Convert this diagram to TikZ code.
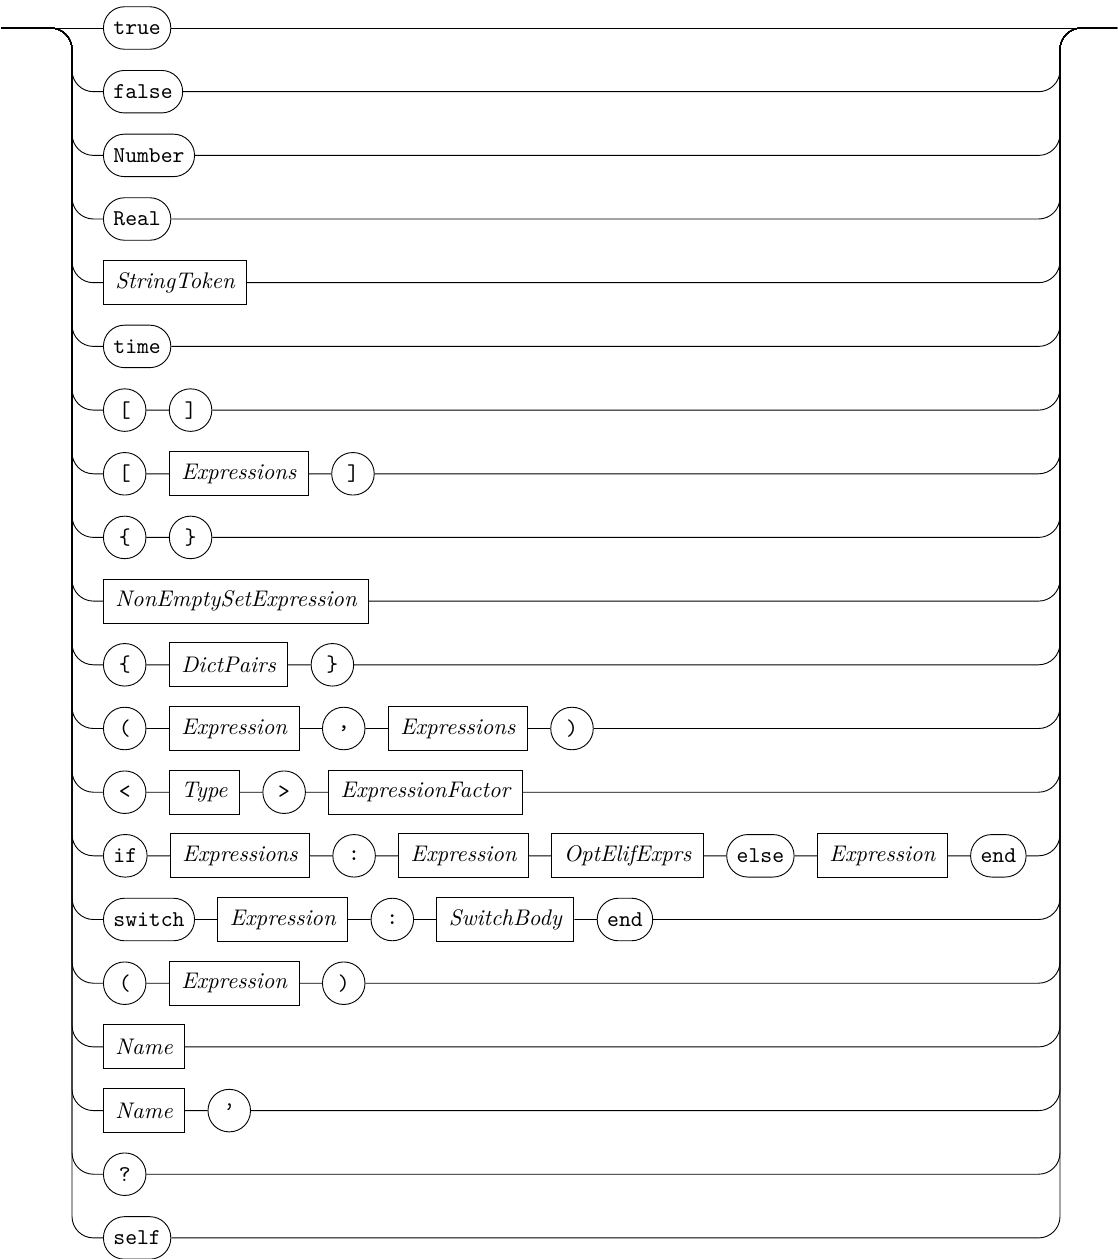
\documentclass[tikz,border=0pt]{standalone}
\usetikzlibrary{positioning, calc}

\begin{document}
\begin{tikzpicture}[x=0.4425pt, y=-0.4425pt, node distance=9.95pt,
    term/.style={draw, rounded corners=9.3pt, minimum height=18.8pt, minimum width=18.8pt, inner xsep=4.4pt, font=\ttfamily},
    nonterm/.style={draw, minimum height=19.5pt, inner xsep=5.3pt, font=\itshape},
    rail/.style={rounded corners=9.5pt}]
    \useasboundingbox (0,0) rectangle (1117,1259);
    \coordinate (in) at (1,28);
    \coordinate (out) at (1117,28);
    \coordinate (lv) at (72,28);
    \coordinate (rv) at (1060,28);

    \node[term, anchor=west] (r0a) at (103,28) {true};
    \draw (in) -- (r0a) -- (out);

    \node[term, anchor=west] (r1a) at (103,91.7) {false};
    \draw[rail] (in) -| (lv |- r1a) -- (r1a) -- (rv |- r1a) |- (out);

    \node[term, anchor=west] (r2a) at (103,155.4) {Number};
    \draw[rail] (in) -| (lv |- r2a) -- (r2a) -- (rv |- r2a) |- (out);

    \node[term, anchor=west] (r3a) at (103,219) {Real};
    \draw[rail] (in) -| (lv |- r3a) -- (r3a) -- (rv |- r3a) |- (out);

    \node[nonterm, anchor=west] (r4a) at (103,282.7) {StringToken};
    \draw[rail] (in) -| (lv |- r4a) -- (r4a) -- (rv |- r4a) |- (out);

    \node[term, anchor=west] (r5a) at (103,346.4) {time};
    \draw[rail] (in) -| (lv |- r5a) -- (r5a) -- (rv |- r5a) |- (out);

    \node[term, anchor=west] (r6a) at (103,410.1) {[};
    \node[term, right=of r6a] (r6b) {]};
    \draw[rail] (in) -| (lv |- r6a) -- (r6a) -- (r6b) -- (rv |- r6b) |- (out);

    \node[term, anchor=west] (r7a) at (103,473.8) {[};
    \node[nonterm, right=of r7a] (r7b) {Expressions};
    \node[term, right=of r7b] (r7c) {]};
    \draw[rail] (in) -| (lv |- r7a) -- (r7a) -- (r7b) -- (r7c) -- (rv |- r7c) |- (out);

    \node[term, anchor=west] (r8a) at (103,537.4) {\char`\{};
    \node[term, right=of r8a] (r8b) {\char`\}};
    \draw[rail] (in) -| (lv |- r8a) -- (r8a) -- (r8b) -- (rv |- r8b) |- (out);

    \node[nonterm, anchor=west] (r9a) at (103,601.1) {NonEmptySetExpression};
    \draw[rail] (in) -| (lv |- r9a) -- (r9a) -- (rv |- r9a) |- (out);

    \node[term, anchor=west] (r10a) at (103,664.8) {\char`\{};
    \node[nonterm, right=of r10a] (r10b) {DictPairs};
    \node[term, right=of r10b] (r10c) {\char`\}};
    \draw[rail] (in) -| (lv |- r10a) -- (r10a) -- (r10b) -- (r10c) -- (rv |- r10c) |- (out);

    \node[term, anchor=west] (r11a) at (103,728.5) {(};
    \node[nonterm, right=of r11a] (r11b) {Expression};
    \node[term, right=of r11b] (r11c) {,};
    \node[nonterm, right=of r11c] (r11d) {Expressions};
    \node[term, right=of r11d] (r11e) {)};
    \draw[rail] (in) -| (lv |- r11a) -- (r11a) -- (r11b) -- (r11c) -- (r11d) -- (r11e) -- (rv |- r11e) |- (out);

    \node[term, anchor=west] (r12a) at (103,792.2) {<};
    \node[nonterm, right=of r12a] (r12b) {Type};
    \node[term, right=of r12b] (r12c) {>};
    \node[nonterm, right=of r12c] (r12d) {ExpressionFactor};
    \draw[rail] (in) -| (lv |- r12a) -- (r12a) -- (r12b) -- (r12c) -- (r12d) -- (rv |- r12d) |- (out);

    \node[term, anchor=west] (r13a) at (103,855.8) {if};
    \node[nonterm, right=of r13a] (r13b) {Expressions};
    \node[term, right=of r13b] (r13c) {:};
    \node[nonterm, right=of r13c] (r13d) {Expression};
    \node[nonterm, right=of r13d] (r13e) {OptElifExprs};
    \node[term, right=of r13e] (r13f) {else};
    \node[nonterm, right=of r13f] (r13g) {Expression};
    \node[term, right=of r13g] (r13h) {end};
    \draw[rail] (in) -| (lv |- r13a) -- (r13a) -- (r13b) -- (r13c) -- (r13d) -- (r13e) -- (r13f) -- (r13g) -- (r13h) -- (rv |- r13h) |- (out);

    \node[term, anchor=west] (r14a) at (103,919.5) {switch};
    \node[nonterm, right=of r14a] (r14b) {Expression};
    \node[term, right=of r14b] (r14c) {:};
    \node[nonterm, right=of r14c] (r14d) {SwitchBody};
    \node[term, right=of r14d] (r14e) {end};
    \draw[rail] (in) -| (lv |- r14a) -- (r14a) -- (r14b) -- (r14c) -- (r14d) -- (r14e) -- (rv |- r14e) |- (out);

    \node[term, anchor=west] (r15a) at (103,983.2) {(};
    \node[nonterm, right=of r15a] (r15b) {Expression};
    \node[term, right=of r15b] (r15c) {)};
    \draw[rail] (in) -| (lv |- r15a) -- (r15a) -- (r15b) -- (r15c) -- (rv |- r15c) |- (out);

    \node[nonterm, anchor=west] (r16a) at (103,1046.9) {Name};
    \draw[rail] (in) -| (lv |- r16a) -- (r16a) -- (rv |- r16a) |- (out);

    \node[nonterm, anchor=west] (r17a) at (103,1110.6) {Name};
    \node[term, right=of r17a] (r17b) {\textquoteright};
    \draw[rail] (in) -| (lv |- r17a) -- (r17a) -- (r17b) -- (rv |- r17b) |- (out);

    \node[term, anchor=west] (r18a) at (103,1174.2) {?};
    \draw[rail] (in) -| (lv |- r18a) -- (r18a) -- (rv |- r18a) |- (out);

    \node[term, anchor=west] (r19a) at (103,1237.9) {self};
    \draw[rail] (in) -| (lv |- r19a) -- (r19a) -- (rv |- r19a) |- (out);
\end{tikzpicture}
\end{document}
